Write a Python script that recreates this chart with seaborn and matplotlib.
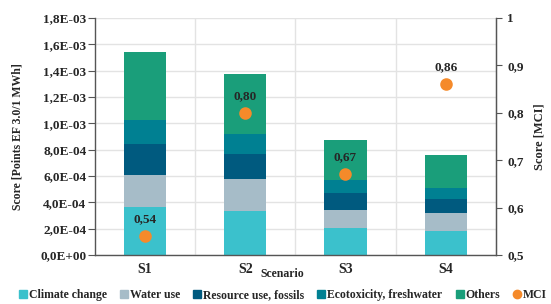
import numpy as np
import pandas as pd
import matplotlib
matplotlib.use("Agg")
import matplotlib.pyplot as plt
from matplotlib.lines import Line2D
from matplotlib.ticker import FuncFormatter, FixedLocator
import seaborn as sns

# 数据
scenarios = ["S1", "S2", "S3", "S4"]
climate_change = [3.67e-4, 3.34e-4, 2.05e-4, 1.82e-4]
water_use = [2.41e-4, 2.41e-4, 1.35e-4, 1.35e-4]
resource_fossils = [2.38e-4, 1.93e-4, 1.34e-4, 1.06e-4]
ecotoxicity = [1.80e-4, 1.49e-4, 0.99e-4, 0.86e-4]
others = [5.19e-4, 4.59e-4, 2.99e-4, 2.53e-4]
mci = [0.54, 0.80, 0.67, 0.86]

layers = [
    ("Climate change", climate_change, "#3bc1cc"),
    ("Water use", water_use, "#a6bcc8"),
    ("Resource use, fossils", resource_fossils, "#005a7f"),
    ("Ecotoxicity, freshwater", ecotoxicity, "#008092"),
    ("Others", others, "#1a9e7a"),
]
mci_color = "#f58a2a"

sns.set_style("white")
plt.rcParams["font.family"] = ["Liberation Serif", "DejaVu Serif"]
plt.rcParams["font.weight"] = "bold"

fig = plt.figure(figsize=(5.51, 3.04), dpi=100)
ax = fig.add_axes([0.172, 0.161, 0.728, 0.780])

# 堆叠柱状图
bottom = np.zeros(len(scenarios))
for name, vals, col in layers:
    sns.barplot(x=scenarios, y=vals, bottom=bottom, color=col, width=0.42,
                ax=ax, saturation=1, edgecolor="none", linewidth=0)
    bottom = bottom + np.array(vals)

ax.set_xlim(-0.5, 3.5)
ax.set_ylim(0, 1.8e-3)
ax.set_yticks(np.arange(0, 1.81e-3, 2e-4))
ax.yaxis.set_major_formatter(FuncFormatter(lambda v, p: f"{v:.1E}".replace(".", ",")))
ax.xaxis.set_minor_locator(FixedLocator([0.5, 1.5, 2.5]))
ax.grid(axis="y", which="major", color="#e3e3e3", linewidth=1)
ax.grid(axis="x", which="minor", color="#e3e3e3", linewidth=1)
ax.set_axisbelow(True)
ax.tick_params(axis="y", labelsize=9.5, length=5, color="#555555", pad=1)
ax.tick_params(axis="x", labelsize=10, length=0, pad=6)
ax.tick_params(axis="x", which="minor", length=0)
for s in ["left", "bottom", "right"]:
    ax.spines[s].set_color("#555555")
    ax.spines[s].set_linewidth(1)
ax.spines["top"].set_visible(False)
ax.set_ylabel("Score [Points EF 3.0/1 MWh]", fontsize=8.5, fontweight="bold", labelpad=12)
ax.set_xlabel("Scenario", fontsize=8.5, fontweight="bold")
ax.xaxis.set_label_coords(0.468, -0.055)

# MCI 次坐标轴
ax2 = ax.twinx()
sns.pointplot(x=scenarios, y=mci, ax=ax2, color=mci_color, linestyle="none",
              markers="o", markersize=7, native_scale=False)
ax2.set_xlim(-0.5, 3.5)
ax2.set_ylim(0.5, 1.0)
ax2.set_yticks(np.arange(0.5, 1.01, 0.1))
ax2.yaxis.set_major_formatter(FuncFormatter(
    lambda v, p: "1" if abs(v - 1) < 1e-9 else f"{v:.1f}".replace(".", ",")))
ax2.tick_params(axis="y", labelsize=9.5, length=4, color="#555555", pad=4)
for s in ["left", "bottom", "top"]:
    ax2.spines[s].set_visible(False)
ax2.spines["right"].set_color("#555555")
ax2.set_ylabel("Score [MCI]", fontsize=9, fontweight="bold", labelpad=7)
for i, v in enumerate(mci):
    ax2.annotate(f"{v:.2f}".replace(".", ","), (i, v), xytext=(0, 8),
                 textcoords="offset points", ha="center", va="bottom",
                 fontsize=9.5, fontweight="bold")

# 图例
handles = [Line2D([], [], marker="s", linestyle="none", color=c, markersize=6)
           for _, _, c in layers]
handles.append(Line2D([], [], marker="o", linestyle="none", color=mci_color, markersize=6))
labels = [n for n, _, _ in layers] + ["MCI"]
fig.legend(handles, labels, loc="lower center", bbox_to_anchor=(0.513, -0.025), ncol=6,
           frameon=False, fontsize=8.5, handletextpad=0.1, columnspacing=1.05,
           handlelength=0.8)

fig.savefig("out.png", dpi=100)
